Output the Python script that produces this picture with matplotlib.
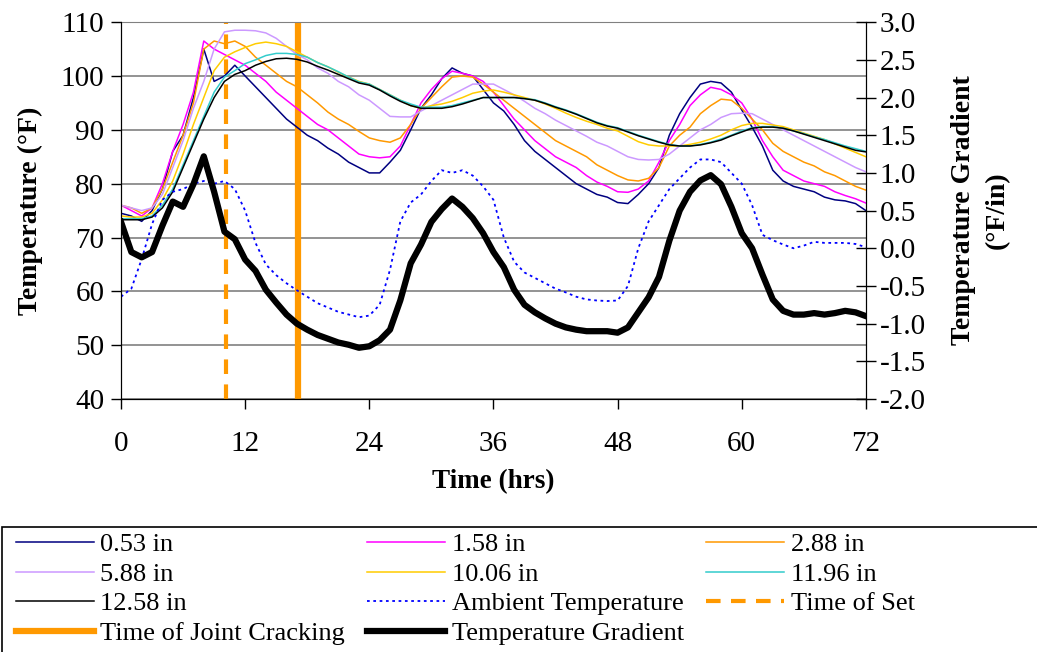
import matplotlib
matplotlib.use("Agg")
import matplotlib.pyplot as plt
from matplotlib.patches import Rectangle

plt.rcParams.update({
    'font.family': ['Liberation Serif', 'DejaVu Serif'],
    'font.size': 18,
})

# hours since placement (hourly readings)
hours = list(range(73))

temp_053 = [74.5, 74, 73, 75, 79, 86, 89, 96, 105, 99, 100, 102, 100, 98, 96, 94, 92, 90.5,
            89, 88, 86.6, 85.5, 84, 83, 82, 82, 84, 86.2, 90, 94, 96.5, 99.5, 101.5, 100.5,
            100, 97.5, 95, 93.5, 91, 88, 86, 84.5, 83, 81.5, 80, 79, 78, 77.5, 76.5, 76.3,
            78, 80, 83, 89, 93, 96, 98.5, 99, 98.7, 97, 93.7, 90.5, 87, 82.5, 80.5, 79.5,
            79, 78.5, 77.5, 77, 76.8, 76.3, 75]
temp_158 = [76, 75, 74, 75.5, 80, 86, 91, 97, 106.5, 105, 104, 103, 102, 100.5, 99, 97, 95.5,
            94, 92.5, 91, 90, 88.5, 87, 85.5, 85, 84.8, 85, 87, 91, 95, 97.5, 99.5, 100.9,
            100.5, 100, 99, 97, 94.5, 92, 90, 88, 86.5, 85, 84, 83, 81.5, 80.3, 79.5, 78.5,
            78.4, 79, 80.5, 84, 88, 91, 94.5, 96.5, 97.9, 97.5, 96.5, 95, 92, 88, 85, 82.5,
            81.5, 80.5, 80, 79.5, 78.5, 77.8, 77.2, 76.4]
temp_288 = [76, 75.5, 74.5, 75.5, 79, 84, 89, 95, 105, 106.5, 106, 106.5, 105.5, 103.5, 102,
            100.5, 99, 98, 96.5, 95, 93.3, 92, 91, 89.7, 88.5, 88, 87.7, 88.5, 91, 94, 96, 98,
            99.8, 100, 99.8, 98.5, 97, 95.5, 94, 92.5, 91, 89.5, 88, 87, 86, 85, 83.5, 82.5,
            81.5, 80.7, 80.5, 81, 83, 87, 89, 90.5, 93, 94.5, 95.7, 95.5, 94, 92, 90, 87.5,
            86, 85, 84, 83.3, 82.2, 81.5, 80.5, 79.5, 78.8]
temp_588 = [76, 75.5, 75, 75.5, 78, 83, 88, 94, 99, 105, 108.2, 108.5, 108.5, 108.4, 108, 107,
            105.5, 104, 103, 101.5, 100.5, 99, 98, 96.5, 95.5, 94, 92.5, 92.4, 92.4, 93.5,
            94.5, 95.5, 96.5, 97.5, 98.5, 98.5, 98.5, 97.5, 96.5, 95.3, 94, 93, 91.8, 90.8,
            89.8, 88.8, 87.7, 87, 86, 85, 84.5, 84.4, 84.5, 85.5, 87, 88.5, 90, 91, 92.3, 93,
            93.1, 93, 92, 91, 90, 89, 88, 87, 86, 85, 84, 83, 82.2]
temp_1006 = [74, 73.8, 73.8, 74.5, 77, 80.5, 85.5, 91, 96, 101, 103.5, 104.5, 105.3, 106,
             106.3, 106, 105.5, 104.5, 103.5, 102.5, 101.7, 100.7, 99.8, 99, 98.5, 97.5, 96.5,
             95.5, 94.5, 94, 94.5, 94.8, 95.3, 96, 96.8, 97.2, 97.4, 97, 96.5, 96, 95.5, 94.8,
             94, 93.1, 92.3, 91.6, 91, 90.3, 89.8, 88.8, 87.8, 87.2, 87, 87, 87, 87.3, 87.7,
             88.3, 89, 90, 90.8, 91.2, 91.2, 90.9, 90.6, 90, 89.4, 88.8, 88.2, 87.4, 86.6,
             85.8, 85]
temp_1196 = [73.5, 73.5, 73.5, 74, 76, 79, 83.5, 88, 92.5, 97, 99.8, 101, 102.3, 103, 103.8,
             104.2, 104.2, 104, 103.5, 102.5, 101.7, 100.8, 99.8, 98.9, 98.5, 97.5, 96.5, 95.5,
             94.8, 94.2, 94.2, 94.2, 94.5, 95, 95.5, 96, 96, 96, 96, 95.8, 95.6, 95, 94.3,
             93.7, 93, 92.2, 91.4, 90.8, 90.4, 89.7, 89, 88.4, 87.8, 87.3, 87, 87, 87.3, 87.7,
             88.3, 89, 89.8, 90.4, 90.6, 90.6, 90.3, 89.8, 89.3, 88.7, 88.2, 87.6, 87, 86.5, 86]
temp_1258 = [73.3, 73.3, 73.3, 73.8, 75.5, 78.5, 83, 87.5, 92, 96, 99, 100.3, 101, 102, 102.7,
             103.2, 103.3, 103.1, 102.6, 101.8, 101.1, 100.3, 99.5, 98.7, 98.3, 97.4, 96.3,
             95.3, 94.5, 94, 94, 94, 94.3, 94.8, 95.4, 96, 96, 96, 96, 95.8, 95.5, 94.9, 94.2,
             93.6, 92.9, 92.1, 91.3, 90.7, 90.3, 89.6, 88.9, 88.3, 87.7, 87.2, 87, 87, 87.2,
             87.6, 88.1, 88.9, 89.6, 90.3, 90.5, 90.5, 90.3, 89.8, 89.2, 88.6, 88, 87.4, 86.8,
             86.2, 85.9]
ambient = [59, 60.5, 66, 72.5, 77, 78.5, 79, 80, 80.5, 80, 80.5, 79, 75, 69, 65, 63, 61.5,
           60.2, 59, 57.8, 57, 56.2, 55.7, 55.2, 55.5, 57.5, 64, 73, 76.5, 78, 80.5, 82.5, 82,
           82.5, 81.5, 79.5, 77, 70, 65.5, 63.5, 62.5, 61.5, 60.5, 59.8, 59, 58.5, 58.3, 58.2,
           58.3, 61, 68, 73, 76, 79, 81, 83, 84.5, 84.5, 84, 82, 80, 76, 70.5, 69.5, 68.7, 68,
           68.5, 69.2, 69, 69, 69, 68.8, 68.2]
gradient = [0.35, -0.05, -0.12, -0.05, 0.3, 0.62, 0.55, 0.85, 1.22, 0.75, 0.22, 0.12, -0.15,
            -0.3, -0.55, -0.72, -0.88, -1.0, -1.08, -1.15, -1.2, -1.25, -1.28, -1.32, -1.3,
            -1.22, -1.08, -0.69, -0.2, 0.05, 0.35, 0.52, 0.66, 0.55, 0.4, 0.2, -0.05, -0.25,
            -0.55, -0.75, -0.85, -0.93, -1.0, -1.05, -1.08, -1.1, -1.1, -1.1, -1.12, -1.05,
            -0.85, -0.65, -0.38, 0.1, 0.5, 0.75, 0.9, 0.97, 0.85, 0.55, 0.2, 0.0, -0.35, -0.68,
            -0.83, -0.88, -0.88, -0.86, -0.88, -0.86, -0.83, -0.85, -0.9]

time_of_set = 10.1
time_of_cracking = 17.1

sensor_series = [
    ("0.53 in", temp_053, "#000080"),
    ("1.58 in", temp_158, "#FF00FF"),
    ("2.88 in", temp_288, "#FF9900"),
    ("5.88 in", temp_588, "#CC99FF"),
    ("10.06 in", temp_1006, "#FFCC00"),
    ("11.96 in", temp_1196, "#33CCCC"),
    ("12.58 in", temp_1258, "#000000"),
]

fig = plt.figure(figsize=(10.37, 6.52), dpi=100)
ax = fig.add_axes([0.1167, 0.388, 0.7183, 0.578])
ax2 = ax.twinx()

handles = []
for label, vals, col in sensor_series:
    h, = ax.plot(hours, vals, color=col, lw=1.1, label=label, zorder=3)
    handles.append(h)
h_amb, = ax.plot(hours, ambient, color="#0000FF", lw=1.3, ls=(0, (1.5, 2)),
                 label="Ambient Temperature", zorder=3)
handles.append(h_amb)
h_set = ax.axvline(time_of_set, color="#FF9900", lw=3, ls=(0, (3.5, 2.5)),
                   label="Time of Set", zorder=2)
handles.append(h_set)
h_crack = ax.axvline(time_of_cracking, color="#FF9900", lw=4.5,
                     label="Time of Joint Cracking", zorder=2)
handles.append(h_crack)
h_grad, = ax2.plot(hours, gradient, color="black", lw=4.5, label="Temperature Gradient",
                   solid_joinstyle="round")
handles.append(h_grad)

ax.set_xlim(0, 72)
ax.set_ylim(40, 110)
ax.set_xticks(range(0, 73, 12))
ax.set_yticks(range(40, 111, 10))
ax2.set_ylim(-2.0, 3.0)
ax2.set_yticks([i * 0.5 - 2.0 for i in range(11)])
ax2.set_yticklabels([f"{i * 0.5 - 2.0:.1f}" for i in range(11)])

ax.grid(axis="y", color="#808080", lw=1.2)
ax.set_axisbelow(True)
ax.spines["top"].set_color("#808080")
ax2.spines["top"].set_visible(False)
ax.tick_params(axis="both", direction="out", length=7, width=1, labelsize=21, pad=5)
ax.tick_params(axis="x", pad=16)
ax2.tick_params(axis="y", direction="inout", length=14, width=1, labelsize=21, pad=3)

ax.set_xlabel("Time (hrs)", fontweight="bold", fontsize=19.5, labelpad=9)
ax.set_ylabel("Temperature (°F)", fontweight="bold", fontsize=20, labelpad=13)
ax2.set_ylabel("Temperature Gradient\n(°F/in)", fontweight="bold", fontsize=20,
               labelpad=18, linespacing=1.45)

# legend box below the chart, filled row by row like the original
order = [0, 3, 6, 9, 1, 4, 7, 10, 2, 5, 8]
fig.patches.append(Rectangle((0.002, -0.05), 1.2, 0.242, transform=fig.transFigure,
                             fill=False, edgecolor="black", lw=1.2))
fig.legend(handles=[handles[i] for i in order], loc="upper left",
           bbox_to_anchor=(0.005, 0.199), ncol=3, frameon=False, fontsize=19,
           handlelength=2.95, handletextpad=0.25, columnspacing=0.85,
           labelspacing=0.23, borderaxespad=0)

fig.savefig("out.png", dpi=100)
